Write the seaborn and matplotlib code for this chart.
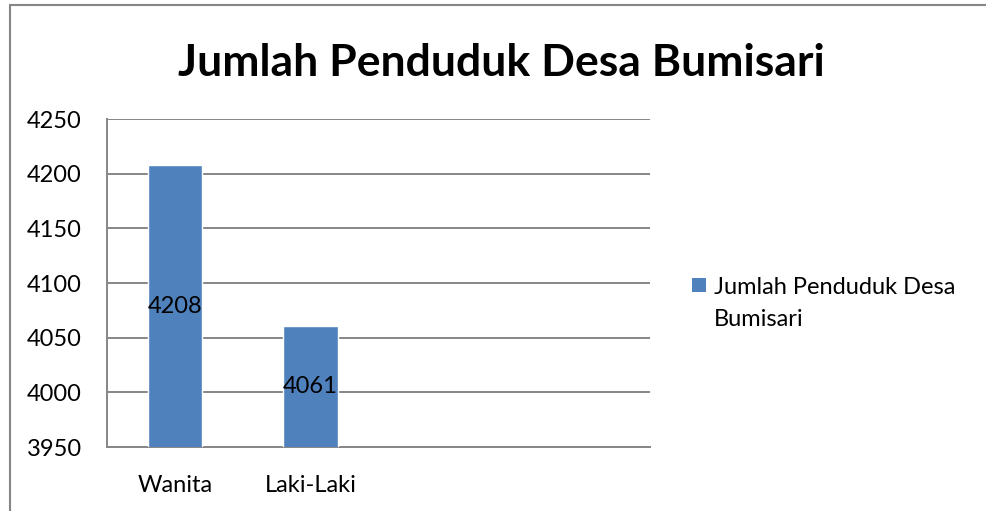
import matplotlib
matplotlib.use("Agg")
import matplotlib.pyplot as plt
import seaborn as sns
import pandas as pd
from matplotlib.lines import Line2D
from matplotlib.patches import Rectangle

categories = ["Wanita", "Laki-Laki"]
values = [4208, 4061]
series_name = "Jumlah Penduduk Desa Bumisari"
legend_label = "Jumlah Penduduk Desa\nBumisari"
yticks = [3950, 4000, 4050, 4100, 4150, 4200, 4250]

df = pd.DataFrame({"kategori": categories, "jumlah": values})

sns.set_style("white")
plt.rcParams["font.family"] = ["Lato", "DejaVu Sans"]
plt.rcParams["text.color"] = "black"
plt.rcParams["xtick.labelcolor"] = "black"
plt.rcParams["ytick.labelcolor"] = "black"

grey = "#868686"
blue = "#4F81BD"
fs = 17

fig = plt.figure(figsize=(9.86, 5.11), dpi=100)
ax = fig.add_axes([0.1085, 0.1252, 0.5505, 0.6418])

sns.barplot(data=df, x="kategori", y="jumlah", color=blue, width=0.4,
            saturation=1, ax=ax, zorder=3)

ax.set_xlim(-0.5, 3.5)
ax.set_ylim(3950, 4250)
ax.set_yticks(yticks)
ax.set_yticklabels([str(v) for v in yticks], fontsize=fs)
ax.yaxis.grid(True, color=grey, linewidth=1.4, zorder=0)
ax.set_axisbelow(True)

# category boundary ticks
ax.set_xticks([-0.5, 0.5, 1.5, 2.5, 3.5])
ax.set_xticklabels([])
ax.set_xticks(range(len(categories)), minor=True)
ax.set_xticklabels(categories, minor=True, fontsize=fs)
ax.tick_params(axis="x", which="major", length=7, width=1.4, color=grey, direction="out")
ax.tick_params(axis="x", which="minor", length=0, pad=20)
ax.tick_params(axis="y", length=7, width=1.4, color=grey, direction="out", pad=11)
ax.set_xlabel("")
ax.set_ylabel("")

for s in ["top", "right"]:
    ax.spines[s].set_visible(False)
for s in ["left", "bottom"]:
    ax.spines[s].set_color(grey)
    ax.spines[s].set_linewidth(1.4)

# data labels centred in visible bar part
lo = ax.get_ylim()[0]
for i, v in enumerate(values):
    ax.text(i, (v + lo) / 2, str(v), ha="center", va="center", fontsize=fs,
            color="black", zorder=4)

fig.text(0.508, 0.876, series_name, ha="center", va="center",
         fontsize=32, fontweight="bold")

# legend: square aligned with first line of wrapped text
fig.add_artist(Rectangle((0.7018, 0.4286), 0.0142, 0.0274, facecolor=blue,
                         edgecolor="none", transform=fig.transFigure))
fig.text(0.724, 0.457, legend_label, ha="left", va="top", fontsize=fs,
         linespacing=1.6)

# outer chart border
fig.add_artist(Line2D([0.0101, 1.0], [0.990, 0.990], color=grey, lw=1.5,
                      transform=fig.transFigure))
fig.add_artist(Line2D([0.0101, 0.0101], [0.0, 0.990], color=grey, lw=1.5,
                      transform=fig.transFigure))

fig.savefig("out.png", dpi=100)
